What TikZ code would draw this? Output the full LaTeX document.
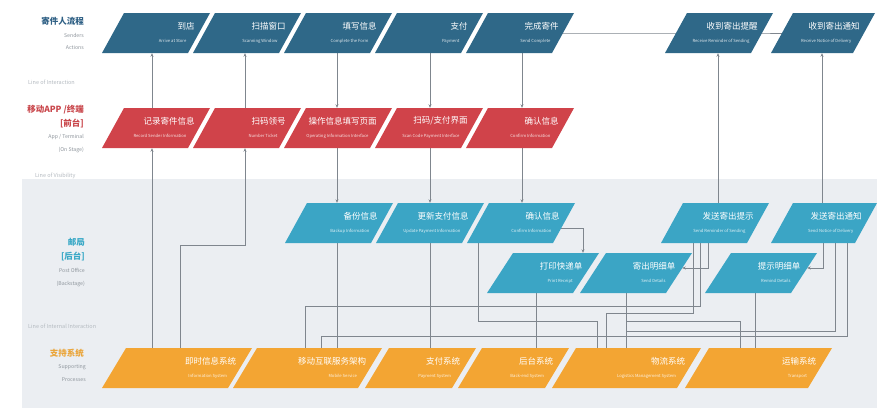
\documentclass[tikz,border=0pt]{standalone}
\usepackage{fontspec}
\setmainfont{Noto Sans CJK SC}
\usetikzlibrary{arrows.meta}
\definecolor{cblue}{HTML}{2F6888}
\definecolor{cred}{HTML}{D0434A}
\definecolor{cteal}{HTML}{3BA5C5}
\definecolor{corange}{HTML}{F3A533}
\definecolor{lanebg}{HTML}{EBEEF2}
\definecolor{connc}{HTML}{7F868E}
\definecolor{lblgray}{HTML}{8E959C}
\definecolor{sepgray}{HTML}{B4BAC0}
\definecolor{lblblue}{HTML}{2F6085}
\definecolor{lblred}{HTML}{C9464B}
\definecolor{lblteal}{HTML}{38A8C6}
\definecolor{lblorange}{HTML}{EAA53A}
\pgfdeclarelayer{bg}
\pgfsetlayers{bg,main}
% #1 name, #2 bottom-left x, #3 top y, #4 width, #5 slant, #6 colour, #7 title, #8 subtitle
\newcommand\pgram[8]{%
  \fill[#6] (#2,#3+40) -- (#2+#4,#3+40) -- (#2+#4+#5,#3) -- (#2+#5,#3) -- cycle;
  \node[inner sep=0,minimum width=#4+#5,minimum height=40] (#1) at (#2+#4/2+#5/2,#3+20) {};
  \node[ttl,anchor=east] (#1t) at (#2+#4+#5-#5*13/40-8,#3+13) {#7};
  \node[subt,anchor=east] (#1s) at (#2+#4+#5-#5*28/40-8,#3+28) {#8};
}
\begin{document}
\begin{tikzpicture}[x=1pt,y=-1pt,
  conn/.style={draw=connc,line width=0.6pt},
  arr/.style={-{Stealth[length=3.5pt,width=3pt]}},
  ttl/.style={text=white,font=\fontsize{8.5}{9}\selectfont,inner sep=0},
  subt/.style={text=white,text opacity=0.85,font=\fontsize{4.2}{5}\selectfont,inner sep=0},
  lane/.style={anchor=east,inner sep=0,font=\fontsize{8.5}{9}\selectfont\bfseries},
  laneen/.style={anchor=east,inner sep=0,text=lblgray,font=\fontsize{5.2}{6}\selectfont},
  sep/.style={anchor=west,inner sep=0,text=sepgray,font=\fontsize{5.5}{6}\selectfont}]
\useasboundingbox (0,0) rectangle (877,408);

% ---- shapes ----
\pgram{b1}{102}{13}{86}{22}{cblue}{到店}{Arrive at Store}
\pgram{b2}{193}{13}{86}{22}{cblue}{扫描窗口}{Scanning Window}
\pgram{b3}{284}{13}{86}{22}{cblue}{填写信息}{Complete the Form}
\pgram{b4}{375}{13}{86}{22}{cblue}{支付}{Payment}
\pgram{b5}{466}{13}{86}{22}{cblue}{完成寄件}{Send Complete}
\pgram{b6}{665}{13}{86}{22}{cblue}{收到寄出提醒}{Receive Reminder of Sending}
\pgram{b7}{771}{13}{82}{22}{cblue}{收到寄出通知}{Receive Notice of Delivery}

\pgram{r1}{102}{108}{86}{22}{cred}{记录寄件信息}{Record Sender Information}
\pgram{r2}{193}{108}{86}{22}{cred}{扫码领号}{Number Ticket}
\pgram{r3}{284}{108}{86}{22}{cred}{操作信息填写页面}{Operating Information Interface}
\pgram{r4}{375}{108}{86}{22}{cred}{扫码/支付界面}{Scan Code Payment Interface}
\pgram{r5}{466}{108}{86}{22}{cred}{确认信息}{Confirm Information}

\pgram{tA}{285}{203}{86}{22}{cteal}{备份信息}{Backup Information}
\pgram{tB}{376}{203}{86}{22}{cteal}{更新支付信息}{Update Payment Information}
\pgram{tC}{467}{203}{86}{22}{cteal}{确认信息}{Confirm Information}
\pgram{tD}{661}{203}{86}{22}{cteal}{发送寄出提示}{Send Reminder of Sending}
\pgram{tE}{771}{203}{84}{22}{cteal}{发送寄出通知}{Send Notice of Delivery}
\pgram{tF}{487}{253}{86}{26}{cteal}{打印快递单}{Print Receipt}
\pgram{tG}{580}{253}{86}{26}{cteal}{寄出明细单}{Send Details}
\pgram{tH}{705}{253}{86}{26}{cteal}{提示明细单}{Remind Details}

\pgram{o1}{102}{348}{126}{24}{corange}{即时信息系统}{Information System}
\pgram{o2}{233}{348}{125}{24}{corange}{移动互联服务架构}{Mobile Service}
\pgram{o3}{365}{348}{87}{24}{corange}{支付系统}{Payment System}
\pgram{o4}{458}{348}{87}{24}{corange}{后台系统}{Back-end System}
\pgram{o5}{552}{348}{125}{24}{corange}{物流系统}{Logistics Management System}
\pgram{o6}{685}{348}{123}{24}{corange}{运输系统}{Transport}

% ---- lane labels ----
\node[lane,text=lblblue] (l1) at (84,21) {寄件人流程};
\node[laneen] (l1a) at (84,35) {Senders};
\node[laneen] (l1b) at (84,48) {Actions};
\node[lane,text=lblred] (l2) at (84,110) {移动APP /终端};
\node[lane,text=lblred] (l2a) at (84,123) {[前台]};
\node[laneen] (l2b) at (84,137) {App / Terminal};
\node[laneen] (l2c) at (84,150) {(On Stage)};
\node[lane,text=lblteal] (l3) at (85,242) {邮局};
\node[lane,text=lblteal] (l3a) at (85,256) {[后台]};
\node[laneen] (l3b) at (85,270) {Post Office};
\node[laneen] (l3c) at (85,284) {(Backstage)};
\node[lane,text=lblorange] (l4) at (84,353) {支持系统};
\node[laneen] (l4a) at (86,367) {Supporting};
\node[laneen] (l4b) at (86,380) {Processes};

\node[sep] (s1) at (28,82) {Line of Interaction};
\node[sep] (s2) at (35,176) {Line of Visibility};
\node[sep] (s3) at (28,326) {Line of Internal Interaction};

% ---- background and connectors ----
\begin{pgfonlayer}{bg}
\fill[white] (0,0) rectangle (877,408);
\fill[lanebg] (22,179) rectangle (877,408);

\draw[conn] (b5.center) -- (b6.center) -- (b7.center);

\draw[conn,arr] (152,0 |- r1.north) -- (152,0 |- b1.south);
\draw[conn,arr] (245,0 |- r2.north) -- (245,0 |- b2.south);
\draw[conn,arr] (337,0 |- b3.south) -- (337,0 |- r3.north);
\draw[conn,arr] (430,0 |- b4.south) -- (430,0 |- r4.north);
\draw[conn,arr] (522,0 |- b5.south) -- (522,0 |- r5.north);

\draw[conn,arr] (152,0 |- o1.north) -- (152,0 |- r1.south);
\draw[conn,arr] (180,0 |- o1.north) |- (245,245) -- (245,0 |- r2.south);

\draw[conn,arr] (337,0 |- r3.south) -- (337,0 |- tA.north);
\draw[conn,arr] (430,0 |- r4.south) -- (430,0 |- tB.north);
\draw[conn,arr] (522,0 |- r5.south) -- (522,0 |- tC.north);

\draw[conn,arr] (718,0 |- tD.north) -- (718,0 |- b6.south);
\draw[conn,arr] (822,0 |- tE.north) -- (822,0 |- b7.south);

\draw[conn] (337,0 |- tA.south) -- (337,0 |- o2.north);
\draw[conn] (430,0 |- tB.south) -- (430,0 |- o3.north);
\draw[conn] (478,0 |- tC.south) |- (597,321) -- (597,0 |- o5.north);
\draw[conn,arr] ([shift={(-16,5)}]tC.east) -| (583,0 |- tF.north);
\draw[conn] (536,0 |- tF.south) -- (536,0 |- o4.north);

\draw[conn] (693,0 |- tD.south) |- (606,313) -- (606,0 |- o5.north);
\draw[conn] (700,0 |- tD.south) |- (305,306) -- (305,0 |- o2.north);
\draw[conn,arr] (708,0 |- tD.south) |- ([shift={(-10,-5)}]tG.east);

\draw[conn,arr] (823,0 |- tE.south) |- ([shift={(-10,-5)}]tH.east);
\draw[conn] (835,0 |- tE.south) |- (626,331) -- (626,0 |- o5.north);
\draw[conn] (847,0 |- tE.south) |- (321,336) -- (321,0 |- o2.north);

\draw[conn] (626,0 |- tG.south) -- (626,0 |- o5.north);
\draw[conn] (626,0 |- tG.south) |- (740,321) -- (740,0 |- o6.north);
\draw[conn] (755,0 |- tH.south) -- (755,0 |- o6.north);
\end{pgfonlayer}
\end{tikzpicture}
\end{document}
